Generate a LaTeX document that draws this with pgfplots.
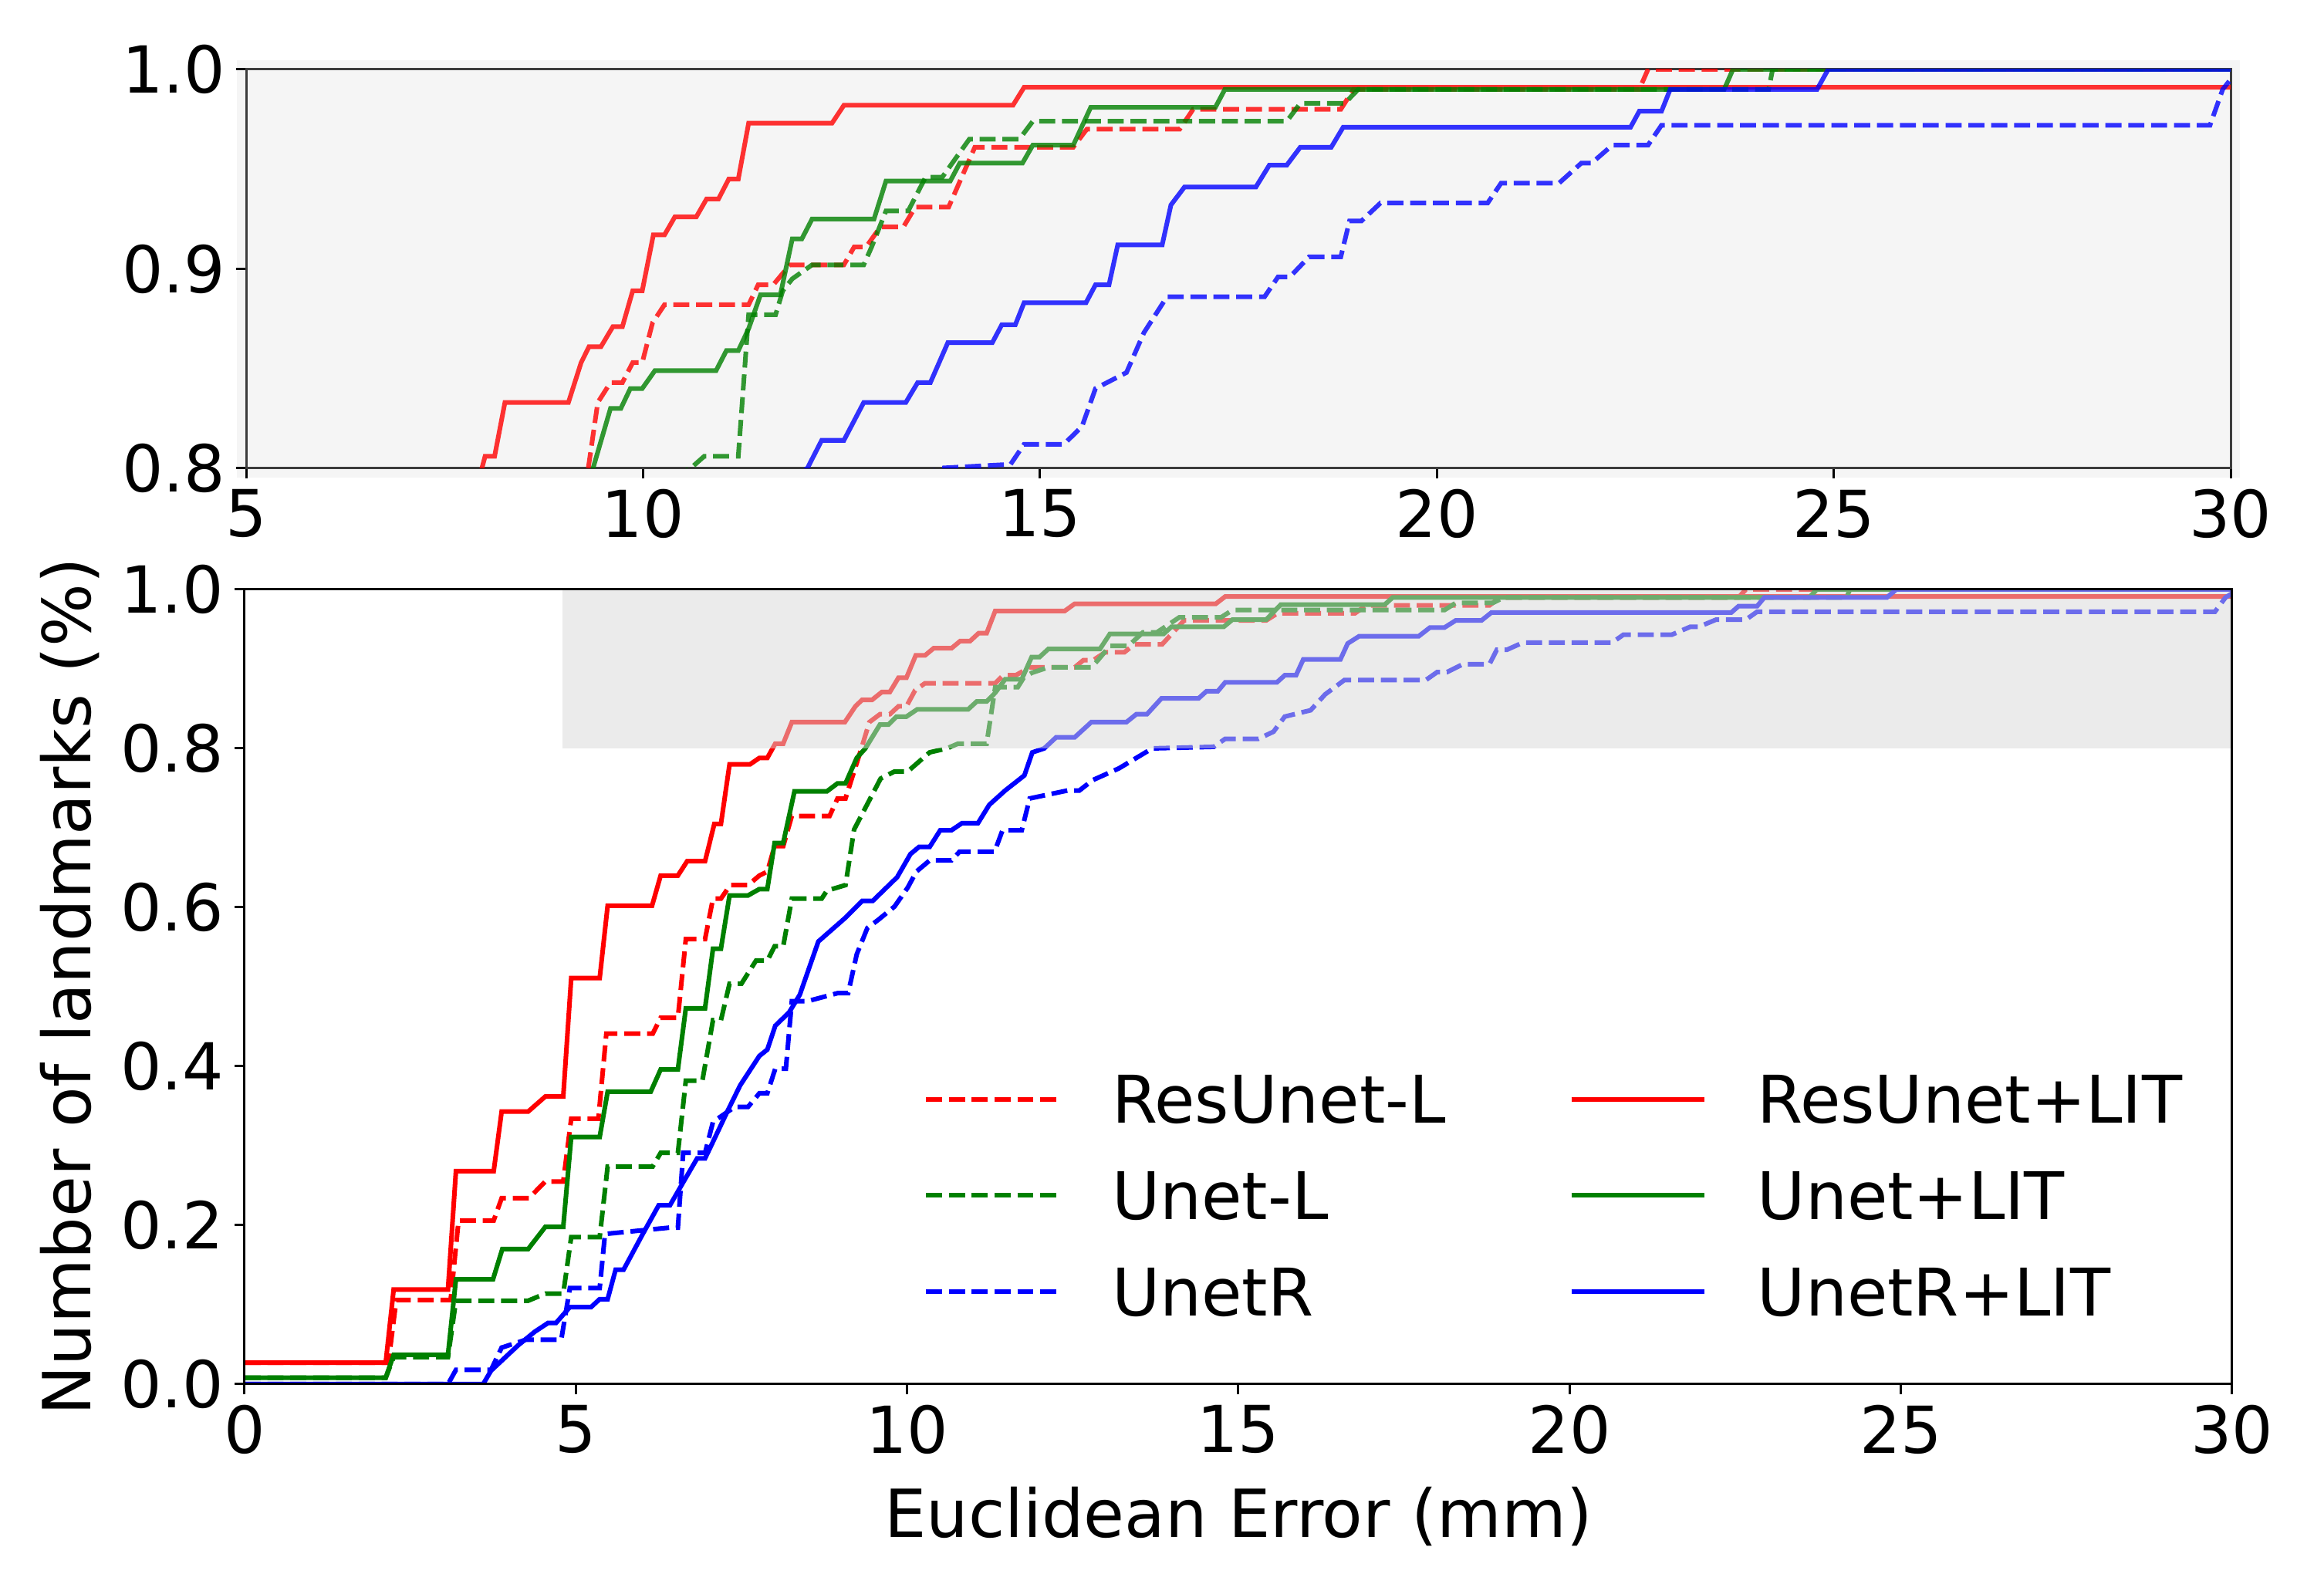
\documentclass[border=0pt]{standalone}
\usepackage{pgfplots}
\pgfplotsset{compat=1.18}
\usepackage{pgfplotstable}
\usepackage{fontspec}
\setmainfont{DejaVu Sans}

\definecolor{mred}{RGB}{255,0,0}
\definecolor{mgreen}{RGB}{0,128,0}
\definecolor{mblue}{RGB}{0,0,255}
\definecolor{topbg}{RGB}{245,245,245}
\definecolor{boxgray}{RGB}{216,216,216}
\definecolor{topframe}{RGB}{60,60,60}

% ResUnet+LIT
\pgfplotstableread{
x y
0 0.027
2.13 0.027
2.25 0.119
3.07 0.119
3.19 0.268
3.76 0.268
3.88 0.343
4.28 0.343
4.54 0.362
4.81 0.362
4.93 0.511
5.36 0.511
5.48 0.602
6.15 0.602
6.28 0.640
6.54 0.640
6.68 0.658
6.95 0.658
7.09 0.705
7.19 0.705
7.32 0.780
7.63 0.780
7.77 0.788
7.89 0.788
8.01 0.806
8.13 0.806
8.26 0.833
9.06 0.833
9.22 0.853
9.32 0.861
9.47 0.861
9.62 0.871
9.74 0.871
9.87 0.889
9.99 0.889
10.13 0.917
10.27 0.917
10.40 0.926
10.67 0.926
10.80 0.935
10.95 0.935
11.08 0.945
11.20 0.945
11.33 0.973
12.38 0.973
12.53 0.982
14.66 0.982
14.80 0.991
30 0.991
}\resLIT

% ResUnet-L
\pgfplotstableread{
x y
0 0.027
2.17 0.027
2.29 0.106
3.11 0.106
3.23 0.206
3.76 0.206
3.88 0.234
4.29 0.234
4.54 0.255
4.81 0.255
4.93 0.334
5.34 0.334
5.46 0.441
6.16 0.441
6.28 0.461
6.54 0.461
6.66 0.560
6.95 0.560
7.07 0.611
7.19 0.611
7.33 0.628
7.60 0.628
7.77 0.640
7.89 0.645
8.00 0.677
8.13 0.677
8.26 0.715
8.83 0.715
8.95 0.737
9.07 0.737
9.31 0.800
9.43 0.833
9.59 0.843
9.74 0.843
9.87 0.853
9.99 0.853
10.12 0.873
10.27 0.882
11.33 0.882
11.45 0.892
11.64 0.892
11.85 0.902
12.53 0.902
12.66 0.911
12.81 0.911
12.99 0.921
13.28 0.921
13.43 0.931
13.85 0.931
14.18 0.961
15.42 0.961
15.59 0.970
16.76 0.970
16.93 0.980
18.79 0.980
18.95 0.990
22.55 0.990
22.66 1.000
30 1.000
}\resL

% Unet+LIT
\pgfplotstableread{
x y
0 0.008
2.13 0.008
2.25 0.037
3.07 0.037
3.19 0.132
3.75 0.132
3.89 0.170
4.28 0.170
4.54 0.198
4.81 0.198
4.93 0.311
5.36 0.311
5.48 0.368
6.13 0.368
6.28 0.396
6.54 0.396
6.66 0.473
6.95 0.473
7.07 0.548
7.19 0.548
7.32 0.615
7.60 0.615
7.77 0.623
7.89 0.623
8.00 0.681
8.13 0.681
8.30 0.746
8.79 0.746
8.95 0.756
9.07 0.756
9.24 0.788
9.37 0.800
9.59 0.830
9.72 0.830
9.84 0.840
9.99 0.840
10.15 0.849
10.92 0.849
11.05 0.859
11.20 0.859
11.33 0.870
11.48 0.887
11.73 0.887
11.88 0.915
12.00 0.915
12.13 0.925
12.91 0.925
13.06 0.944
13.87 0.944
13.99 0.953
14.78 0.953
14.91 0.962
15.42 0.962
15.64 0.981
17.21 0.981
17.33 0.990
23.62 0.990
23.73 1.000
30 1.000
}\unetLIT

% Unet-L
\pgfplotstableread{
x y
0 0.008
2.13 0.008
2.25 0.034
3.07 0.034
3.19 0.105
4.28 0.105
4.54 0.114
4.81 0.114
4.93 0.185
5.36 0.185
5.48 0.274
6.16 0.274
6.28 0.291
6.54 0.291
6.66 0.382
6.91 0.382
7.07 0.458
7.19 0.458
7.32 0.504
7.50 0.504
7.72 0.533
7.89 0.533
8.00 0.551
8.13 0.551
8.26 0.611
8.71 0.611
8.79 0.621
9.07 0.628
9.20 0.698
9.60 0.762
9.81 0.771
10.01 0.771
10.34 0.795
10.60 0.800
10.77 0.806
11.20 0.806
11.33 0.877
11.67 0.877
11.76 0.889
11.88 0.895
12.13 0.902
12.78 0.902
12.88 0.911
13.06 0.929
13.34 0.929
13.56 0.946
13.77 0.946
14.11 0.965
14.74 0.965
14.91 0.974
18.11 0.974
18.28 0.983
18.84 0.983
19.01 0.990
24.18 0.990
24.23 1.000
30 1.000
}\unetL

% UnetR+LIT
\pgfplotstableread{
x y
0 0
3.60 0
3.72 0.017
4.13 0.049
4.38 0.066
4.58 0.077
4.70 0.077
4.91 0.097
5.23 0.097
5.36 0.107
5.48 0.107
5.60 0.144
5.72 0.144
6.01 0.189
6.25 0.225
6.42 0.225
6.62 0.254
6.83 0.284
6.95 0.284
7.07 0.305
7.28 0.342
7.48 0.376
7.77 0.413
7.89 0.421
8.01 0.451
8.22 0.468
8.38 0.490
8.66 0.557
9.07 0.587
9.32 0.608
9.48 0.608
9.85 0.638
10.05 0.667
10.18 0.676
10.34 0.676
10.50 0.697
10.67 0.697
10.83 0.706
11.07 0.706
11.24 0.729
11.48 0.747
11.77 0.766
11.89 0.795
12.07 0.800
12.25 0.814
12.53 0.814
12.78 0.833
13.31 0.833
13.46 0.843
13.62 0.843
13.84 0.863
14.40 0.863
14.52 0.872
14.69 0.872
14.80 0.883
15.58 0.883
15.70 0.892
15.87 0.892
15.98 0.912
16.54 0.912
16.65 0.932
16.82 0.941
17.72 0.941
17.89 0.952
18.11 0.952
18.28 0.961
18.67 0.961
18.82 0.971
22.44 0.971
22.55 0.979
22.83 0.979
22.94 0.990
24.79 0.990
24.93 1.000
30 1.000
}\unetrLIT

% UnetR
\pgfplotstableread{
x y
0 0
3.07 0
3.19 0.018
3.72 0.018
3.88 0.046
4.25 0.056
4.78 0.056
4.91 0.121
5.36 0.121
5.44 0.189
6.42 0.197
6.54 0.197
6.62 0.291
6.95 0.291
7.07 0.330
7.40 0.349
7.60 0.349
7.77 0.366
7.89 0.366
8.01 0.397
8.17 0.397
8.26 0.482
8.50 0.482
8.95 0.492
9.11 0.492
9.24 0.541
9.40 0.574
9.56 0.584
9.81 0.601
10.01 0.625
10.14 0.645
10.34 0.659
10.67 0.659
10.79 0.670
11.32 0.670
11.44 0.697
11.73 0.697
11.85 0.737
12.42 0.747
12.60 0.747
12.80 0.760
13.20 0.775
13.50 0.790
13.70 0.800
14.63 0.802
14.80 0.812
15.30 0.812
15.53 0.821
15.70 0.840
16.09 0.848
16.31 0.868
16.60 0.886
17.83 0.886
18.00 0.896
18.15 0.896
18.39 0.906
18.79 0.906
18.90 0.924
19.05 0.924
19.29 0.933
20.64 0.933
20.81 0.943
21.54 0.943
21.82 0.953
21.95 0.953
22.21 0.962
22.66 0.962
22.83 0.972
29.74 0.972
29.90 0.990
30 0.995
}\unetr

\pgfplotsset{
  common/.style={
    scale only axis,
    xmax=30,
    tick align=outside,
    xtick pos=left, ytick pos=left,
    major tick length=3.3pt,
    every tick/.style={line width=0.75pt, color=black},
    axis line style={line width=0.75pt},
    ticklabel style={font=\fontsize{21}{25}\selectfont},
    /pgf/number format/assume math mode=true,
    scaled y ticks=false,
    yticklabel style={/pgf/number format/fixed, /pgf/number format/precision=1, /pgf/number format/fixed zerofill},
    xtick={0,5,10,15,20,25,30},
  },
  sl/.style={line width=1.5pt},
  dl/.style={line width=1.5pt, dash pattern=on 5.2pt off 2.2pt},
}

\begin{document}
\begin{tikzpicture}
% bottom axis
\begin{axis}[common,
  name=bot,
  at={(0pt,0pt)}, anchor=south west,
  width=644pt, height=257.5pt,
  xmin=0, ymin=0, ymax=1,
  ytick={0,0.2,0.4,0.6,0.8,1.0},
  axis on top,
  xlabel={Euclidean Error (mm)},
  ylabel={Number of landmarks (\%)},
  every axis x label/.style={at={(axis description cs:0.5,-0.167)}, anchor=center, font=\fontsize{21.5}{25}\selectfont},
  every axis y label/.style={at={(axis description cs:-0.088,0.5)}, anchor=center, rotate=90, font=\fontsize{21.5}{25}\selectfont},
  legend columns=2,
  legend cell align=left,
  legend style={draw=none, fill=none, inner sep=0pt, outer sep=0pt,
    at={(axis cs:10.25,0.389)}, anchor=north west,
    font=\fontsize{21.3}{25}\selectfont,
    row sep=15.6pt,
    nodes={inner sep=0pt, text height=15.6pt, text depth=0pt},
    /tikz/every odd column/.append style={column sep=16.5pt},
    /tikz/every even column/.append style={column sep=40pt}},
  legend image code/.code={\draw[#1] (0pt,0pt) -- (43pt,0pt);},
]
\addplot[dl, mred] table {\resL}; \addlegendentry{ResUnet-L}
\addplot[sl, mred] table {\resLIT}; \addlegendentry{ResUnet+LIT}
\addplot[dl, mgreen] table {\unetL}; \addlegendentry{Unet-L}
\addplot[sl, mgreen] table {\unetLIT}; \addlegendentry{Unet+LIT}
\addplot[dl, mblue] table {\unetr}; \addlegendentry{UnetR}
\addplot[sl, mblue] table {\unetrLIT}; \addlegendentry{UnetR+LIT}
\fill[boxgray, fill opacity=0.5] (axis cs:4.8,0.8) rectangle (axis cs:30,1.0);
\end{axis}
% top axis
\begin{axis}[common,
  at={(0.5pt,296.75pt)}, anchor=south west,
  width=643pt, height=129.25pt,
  xmin=5, ymin=0.8, ymax=1,
  ytick={0.8,0.9,1.0},
  xtick={5,10,15,20,25,30},
  axis line style={line width=0.75pt, color=topframe},
  axis background/.style={fill=topbg, draw=topbg, line width=6pt},
]
\addplot[dl, mred, opacity=0.8] table {\resL};
\addplot[sl, mred, opacity=0.8] table {\resLIT};
\addplot[dl, mgreen, opacity=0.8] table {\unetL};
\addplot[sl, mgreen, opacity=0.8] table {\unetLIT};
\addplot[dl, mblue, opacity=0.8] table {\unetr};
\addplot[sl, mblue, opacity=0.8] table {\unetrLIT};
\end{axis}
\pgfresetboundingbox
\useasboundingbox (-79.25pt,-61.5pt) rectangle (673.75pt,448.5pt);
\end{tikzpicture}
\end{document}
